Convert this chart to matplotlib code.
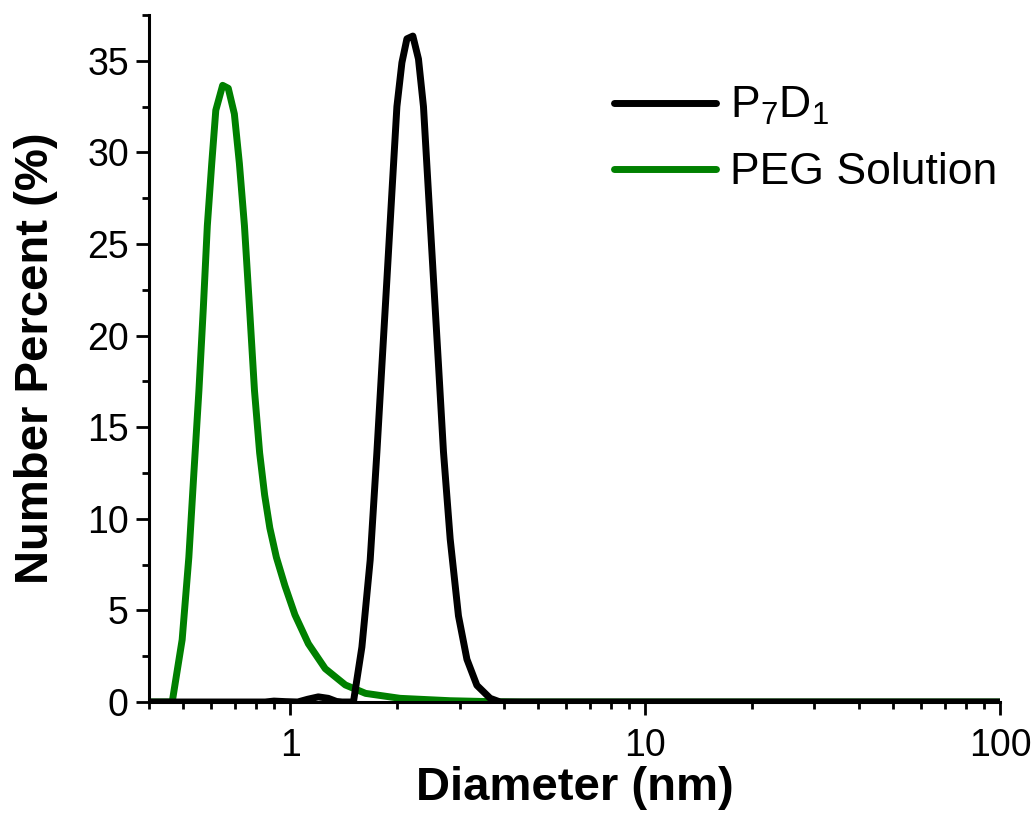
import matplotlib
matplotlib.use("Agg")
import matplotlib.pyplot as plt
from matplotlib.ticker import FixedLocator, NullFormatter

plt.rcParams['font.family'] = ['Liberation Sans', 'DejaVu Sans']
plt.rcParams['mathtext.fontset'] = 'custom'
plt.rcParams['mathtext.rm'] = 'Liberation Sans'

# size distribution (diameter in nm, number percent)
p7d1_diam = [0.40, 0.85, 0.90, 0.97, 1.05, 1.12, 1.20, 1.28, 1.35, 1.40,
             1.507, 1.592, 1.680, 1.755, 1.813, 1.873, 1.934, 1.998, 2.064,
             2.132, 2.216, 2.298, 2.374, 2.452, 2.533, 2.617, 2.703, 2.823,
             2.979, 3.147, 3.357, 3.66, 3.905, 100]
p7d1_pct = [0, 0, 0.05, 0.02, 0, 0.15, 0.28, 0.2, 0.03, 0,
            0, 3.0, 7.75, 13.65, 18.4, 23.1, 27.8, 32.5, 34.9,
            36.2, 36.35, 35.1, 32.5, 27.8, 23.1, 18.4, 13.65, 8.9,
            4.7, 2.33, 0.91, 0.2, 0, 0]

peg_diam = [0.40, 0.465, 0.496, 0.518, 0.535, 0.553, 0.569, 0.584, 0.601,
            0.617, 0.645, 0.669, 0.696, 0.719, 0.743, 0.768, 0.793, 0.820,
            0.847, 0.876, 0.914, 0.966, 1.031, 1.125, 1.255, 1.430, 1.631,
            2.04, 2.82, 3.66, 4.5, 100]
peg_pct = [0, 0, 3.4, 7.9, 12.45, 17.0, 21.5, 26.0, 29.4,
           32.3, 33.66, 33.5, 32.1, 29.4, 26.0, 21.5, 17.0, 13.6,
           11.3, 9.5, 7.9, 6.35, 4.76, 3.18, 1.82, 0.93, 0.47,
           0.2, 0.07, 0.02, 0, 0]

fig = plt.figure(figsize=(10.36, 8.19), dpi=100)
ax = fig.add_axes([149/1036, 117/819, 851/1036, 687/819])

ax.plot(peg_diam, peg_pct, color='#008000', lw=5, label='PEG Solution',
        solid_joinstyle='round', solid_capstyle='round', zorder=2)
ax.plot(p7d1_diam, p7d1_pct, color='black', lw=5,
        label=r'P$_\mathregular{7}$D$_\mathregular{1}$',
        solid_joinstyle='round', solid_capstyle='round', zorder=3)

ax.set_xscale('log')
ax.set_xlim(0.4, 100)
ax.set_ylim(0, 37.5)

ax.set_xticks([1, 10, 100], ['1', '10', '100'])
minors = [m * 10.0**e for e in (-1, 0, 1) for m in range(2, 10)]
ax.xaxis.set_minor_locator(FixedLocator([v for v in minors if v >= 0.4]))
ax.xaxis.set_minor_formatter(NullFormatter())
ax.set_yticks(range(0, 40, 5))
ax.yaxis.set_minor_locator(FixedLocator([2.5 + 5 * i for i in range(8)]))

for s in ('top', 'right'):
    ax.spines[s].set_visible(False)
for s in ('left', 'bottom'):
    ax.spines[s].set_linewidth(2.2)

ax.tick_params(which='major', direction='out', length=9.5, width=2,
               labelsize=27, pad=5)
ax.tick_params(which='minor', direction='out', length=5, width=2)
ax.tick_params(axis='x', which='major', pad=9)

ax.set_xlabel('Diameter (nm)', fontsize=34, fontweight='bold', labelpad=2)
ax.set_ylabel('Number Percent (%)', fontsize=34, fontweight='bold', labelpad=21)

handles, labels = ax.get_legend_handles_labels()
ax.legend(handles[::-1], labels[::-1], loc='upper left',
          bbox_to_anchor=(592/1036, 1 - 63/819), bbox_transform=fig.transFigure,
          frameon=False, fontsize=32, handlelength=2.3, handletextpad=0.3,
          labelspacing=0.56, borderpad=0)

fig.savefig('out.png', dpi=100)
